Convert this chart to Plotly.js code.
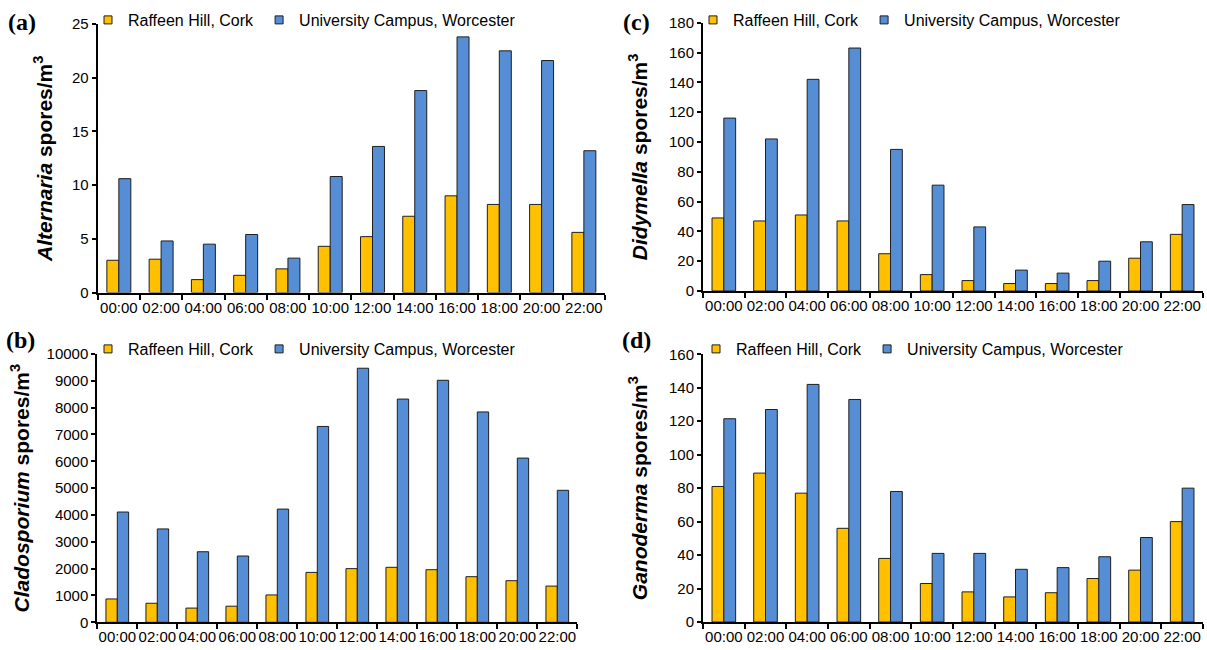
<!DOCTYPE html>
<html>
<head>
<meta charset="utf-8">
<script src="https://cdn.plot.ly/plotly-3.0.1.min.js"></script>
<style>
  html, body { margin: 0; padding: 0; background: #ffffff; }
  #chart { width: 1207px; height: 650px; }
</style>
</head>
<body>
<div id="chart"></div>
<script>
// ---- data ----
const hours = ['00:00','02:00','04:00','06:00','08:00','10:00','12:00','14:00','16:00','18:00','20:00','22:00'];
const seriesNames = ['Raffeen Hill, Cork', 'University Campus, Worcester'];

const alternariaCork = [3.0, 3.1, 1.2, 1.6, 2.2, 4.3, 5.2, 7.1, 9.0, 8.2, 8.2, 5.6];
const alternariaWorc = [10.6, 4.8, 4.5, 5.4, 3.2, 10.8, 13.6, 18.8, 23.8, 22.5, 21.6, 13.2];

const cladosporiumCork = [870, 710, 530, 600, 1020, 1860, 2000, 2050, 1960, 1700, 1550, 1350];
const cladosporiumWorc = [4110, 3480, 2630, 2470, 4220, 7300, 9470, 8320, 9020, 7840, 6120, 4920];

const didymellaCork = [49, 47, 51, 47, 25, 11, 7, 5, 5, 7, 22, 38];
const didymellaWorc = [116, 102, 142, 163, 95, 71, 43, 14, 12, 20, 33, 58];

const ganodermaCork = [81, 89, 77, 56, 38, 23, 18, 15, 17.5, 26, 31, 60];
const ganodermaWorc = [121.5, 127, 142, 133, 78, 41, 41, 31.5, 32.5, 39, 50.5, 80];

const panelLabels = ['(a)', '(b)', '(c)', '(d)'];
const genusNames = ['Alternaria', 'Cladosporium', 'Didymella', 'Ganoderma'];

// ---- styling ----
const W = 1207, H = 650;
const YELLOW = '#FFC000';
const BLUE = '#558ED5';
const OUTLINE = '#1f1f1f';
const FONT = 'Liberation Sans, Arial, Helvetica, sans-serif';

// panel geometry in pixels: [left, right, top, bottom]
const panels = [
  {ax: '', box: [97.7, 605, 24, 292.5], range: [0, 25], dtick: 5, cork: alternariaCork, worc: alternariaWorc, legend: 'legend', lx: 88, ly: 20, standoff: 14},
  {ax: '2', box: [97.3, 577.3, 354, 622.3], range: [0, 10000], dtick: 1000, cork: cladosporiumCork, worc: cladosporiumWorc, legend: 'legend2', lx: 88, ly: 349, standoff: 11},
  {ax: '3', box: [703, 1203, 22.7, 291], range: [0, 180], dtick: 20, cork: didymellaCork, worc: didymellaWorc, legend: 'legend3', lx: 693, ly: 20, standoff: 16},
  {ax: '4', box: [703, 1203, 354.3, 622], range: [0, 160], dtick: 20, cork: ganodermaCork, worc: ganodermaWorc, legend: 'legend4', lx: 696, ly: 349, standoff: 16}
];
const labelPos = [[22, 22], [20, 340], [636, 22], [636, 340]];

const traces = [];
const layout = {
  width: W, height: H,
  margin: {l: 0, r: 0, t: 0, b: 0},
  paper_bgcolor: '#ffffff',
  plot_bgcolor: 'rgba(0,0,0,0)',
  font: {family: FONT, color: '#000000', size: 15},
  barmode: 'group',
  bargap: 0.433,
  bargroupgap: 0,
  annotations: []
};

panels.forEach((p, i) => {
  const xa = 'x' + p.ax, ya = 'y' + p.ax;
  [[p.cork, YELLOW, seriesNames[0]], [p.worc, BLUE, seriesNames[1]]].forEach(([vals, col, nm]) => {
    traces.push({
      type: 'bar', x: hours, y: vals, name: nm,
      xaxis: xa, yaxis: ya, showlegend: false,
      marker: {color: col, line: {color: OUTLINE, width: 1}},
      hoverinfo: 'x+y+name'
    });
  });
  // legend entries (small outlined squares like the original)
  [[YELLOW, seriesNames[0]], [BLUE, seriesNames[1]]].forEach(([col, nm]) => {
    traces.push({
      type: 'scatter', mode: 'markers', x: [null], y: [null], name: nm,
      xaxis: xa, yaxis: ya, legend: p.legend, showlegend: true,
      marker: {symbol: 'square', size: 8, color: col, line: {color: OUTLINE, width: 1}},
      hoverinfo: 'skip'
    });
  });

  const [L, R, T, B] = p.box;
  layout['xaxis' + p.ax] = {
    domain: [L / W, R / W], anchor: ya,
    type: 'category', categoryarray: hours, range: [-0.5, 11.5],
    showline: true, linecolor: '#000', linewidth: 2,
    ticks: 'outside', tickson: 'boundaries', ticklen: 5, tickwidth: 1.5, tickcolor: '#000',
    tickangle: 0,
    showgrid: false, zeroline: false,
    tickfont: {size: 15, family: FONT, color: '#000'}, fixedrange: true
  };
  layout['yaxis' + p.ax] = {
    domain: [1 - B / H, 1 - T / H], anchor: xa,
    range: p.range, dtick: p.dtick, tick0: 0, tickformat: 'd',
    showline: true, linecolor: '#000', linewidth: 2,
    ticks: 'outside', ticklen: 4, tickwidth: 1.5, tickcolor: '#000',
    showgrid: false, zeroline: false,
    tickfont: {size: 15, family: FONT, color: '#000'}, fixedrange: true,
    title: {text: '<b><i>' + genusNames[i] + '</i> spores/m<sup>3</sup></b>', font: {size: 21, family: FONT, color: '#000'}, standoff: p.standoff}
  };
  layout[p.legend] = {
    x: p.lx / W, y: 1 - p.ly / H, xanchor: 'left', yanchor: 'middle',
    orientation: 'h', bgcolor: 'rgba(0,0,0,0)', borderwidth: 0,
    font: {size: 16, family: FONT, color: '#000'},
    itemclick: false, itemdoubleclick: false, tracegroupgap: 0
  };
  layout.annotations.push({
    xref: 'paper', yref: 'paper', x: labelPos[i][0] / W, y: 1 - labelPos[i][1] / H,
    xanchor: 'center', yanchor: 'middle', showarrow: false,
    text: '<b>' + panelLabels[i] + '</b>',
    font: {family: 'Liberation Serif, Times New Roman, serif', size: 24, color: '#000'}
  });
});

Plotly.newPlot('chart', traces, layout, {displayModeBar: false, staticPlot: false});
</script>
</body>
</html>
